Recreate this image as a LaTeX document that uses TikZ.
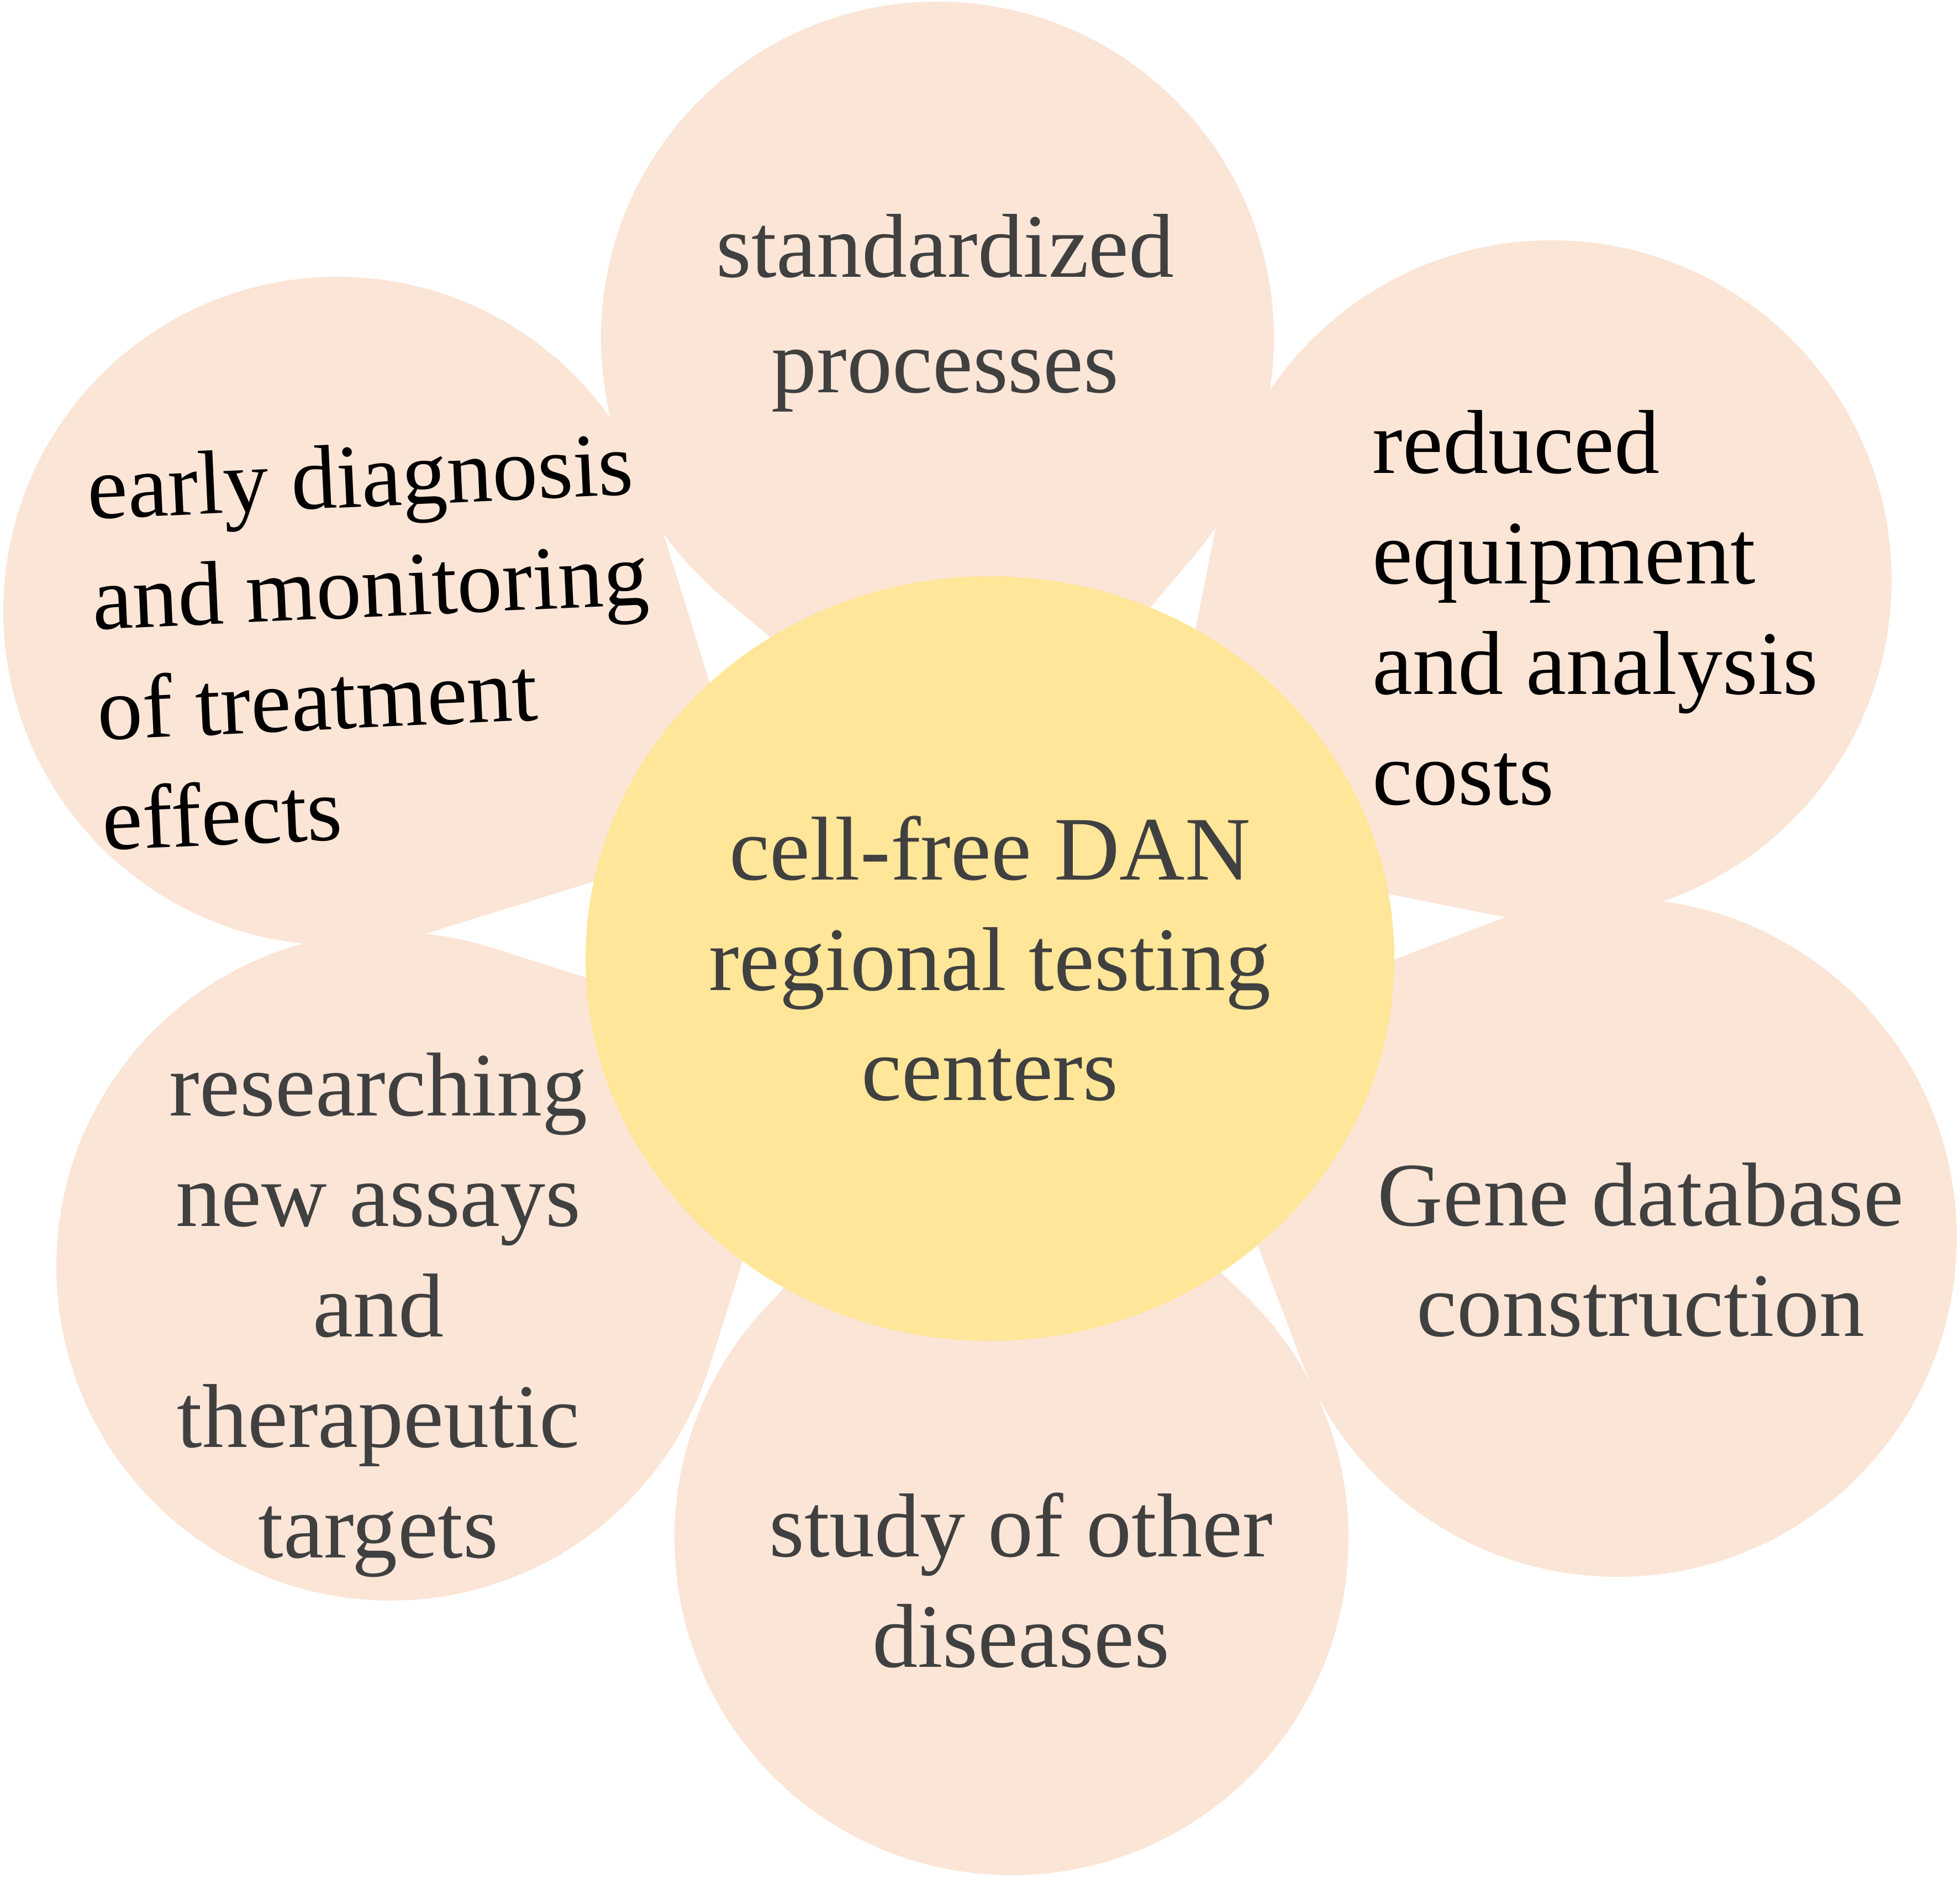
\documentclass[tikz,border=0pt]{standalone}
\usepackage{fontspec}
\setmainfont{Liberation Serif}
\usetikzlibrary{calc,shapes.geometric}

\definecolor{petalfill}{HTML}{FBE5D6}
\definecolor{hubfill}{HTML}{FFE699}
\definecolor{txtgray}{HTML}{404040}

\newcommand{\petalfont}{\fontsize{46.7}{56.9}\selectfont}

\tikzset{
	petal/.style={circle,fill=petalfill,inner sep=0pt},
	hub/.style={ellipse,fill=hubfill,inner sep=0pt,minimum width=14.64cm,minimum height=13.84cm,
		align=center,text=txtgray,font=\petalfont},
	lbl/.style={align=center,text=txtgray,font=\petalfont,inner sep=0pt}
}

\begin{document}
\begin{tikzpicture}
	\useasboundingbox (0,0) rectangle (35.48,-34.01);
	\coordinate (hub) at (17.92,-17.28);
	% petals: circle plus a square corner pointing to the hub
	\foreach \n/\x/\y/\r in {std/16.97/-6.12/6.09, red/28.09/-10.50/6.15, gene/29.28/-22.40/6.14,
		dis/18.31/-27.84/6.10, res/7.07/-22.92/6.05, early/6.11/-11.06/6.05}{
		\node[petal,minimum size={2*\r*1cm}] (\n) at (\x,\y) {};
		\fill[petalfill] (\n.center) -- ($(\n.center)!{\r*1cm}!45:(hub)$)
		-- ($(\n.center)!{sqrt(2)*\r*1cm}!(hub)$) -- ($(\n.center)!{\r*1cm}!-45:(hub)$) -- cycle;
	}
	\node[hub] (cfdna) at ([yshift=-0.07cm]hub) {cell-free DAN\\regional testing\\centers};
	% labels (base = last line)
	\node[lbl,anchor=base] (std-t) at (17.11,-7.10) {standardized\\[0.09cm]processes};
	\node[lbl,anchor=base west,align=left,text=black] (red-t) at (24.84,-14.56) {reduced\\equipment\\and analysis\\costs};
	\node[lbl,anchor=base] (gene-t) at (29.70,-24.18) {Gene database\\construction};
	\node[lbl,anchor=base] (dis-t) at (18.48,-30.17) {study of other\\diseases};
	\node[lbl,anchor=base] (res-t) at (6.85,-28.19) {researching\\new assays\\and\\therapeutic\\targets};
	\node[lbl,anchor=base west,align=left,text=black,rotate=2.6] (early-t) at (1.87,-15.39) {early diagnosis\\and monitoring\\of treatment\\effects};
\end{tikzpicture}
\end{document}
